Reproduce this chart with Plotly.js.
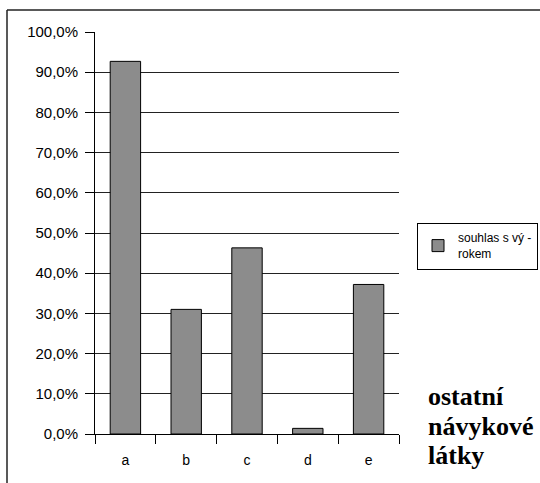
<!DOCTYPE html>
<html>
<head>
<meta charset="utf-8">
<script src="https://cdn.plot.ly/plotly-3.0.1.min.js"></script>
<style>
html,body{margin:0;padding:0;background:#fff;}
#chart{width:540px;height:483px;}
</style>
</head>
<body>
<div id="chart"></div>
<script>
const categories = ['a', 'b', 'c', 'd', 'e'];
const values = [0.927, 0.310, 0.463, 0.014, 0.372];
const seriesName = 'souhlas s vý -<br>rokem';
const sideLines = ['ostatní', 'návykové', 'látky'];

const L = 95, R = 399, T = 32, B = 434, W = 540, H = 483;
const pw = R - L, ph = B - T;
const px = v => (v - L) / pw;
const py = v => 1 - (v - T) / ph;

const trace = {
  type: 'bar',
  x: categories,
  y: values,
  name: seriesName,
  marker: {color: '#8c8c8c', line: {color: '#000', width: 1}},
  showlegend: true,
  hoverinfo: 'none'
};

const lineCenters = [396, 426, 455];
const annotations = sideLines.map((t, i) => ({
  xref: 'paper', yref: 'paper',
  x: px(426), y: py(lineCenters[i]),
  xanchor: 'left', yanchor: 'middle', align: 'left',
  showarrow: false,
  text: '<b>' + t + '</b>',
  font: {family: 'Liberation Serif, Times New Roman, serif', size: 26, color: '#000'}
}));

const layout = {
  width: W, height: H,
  margin: {l: L, r: W - R, t: T, b: H - B, pad: 0, autoexpand: false},
  paper_bgcolor: '#fff',
  plot_bgcolor: '#fff',
  font: {family: 'Liberation Sans, Arial, sans-serif', size: 14, color: '#000'},
  separators: ', ',
  bargap: 0.5,
  showlegend: true,
  xaxis: {
    type: 'category',
    showline: true, linecolor: '#000', linewidth: 1,
    ticks: 'outside', ticklen: 9, tickcolor: '#000', tickwidth: 1,
    tickson: 'boundaries',
    showgrid: false,
    tickfont: {size: 14},
    ticklabelstandoff: 13,
    automargin: false,
    fixedrange: true
  },
  yaxis: {
    range: [0, 1],
    tickvals: [0, 0.1, 0.2, 0.3, 0.4, 0.5, 0.6, 0.7, 0.8, 0.9, 1.0],
    tickformat: '.1%',
    showline: true, linecolor: '#000', linewidth: 1,
    ticks: 'outside', ticklen: 9, tickcolor: '#000', tickwidth: 1,
    showgrid: true, gridcolor: '#222', gridwidth: 1,
    zeroline: false,
    tickfont: {size: 15},
    ticklabelstandoff: 4,
    automargin: false,
    fixedrange: true
  },
  legend: {
    x: px(417), xanchor: 'left',
    y: py(246), yanchor: 'middle',
    bgcolor: '#fff', bordercolor: '#000', borderwidth: 1,
    font: {size: 12},
    itemwidth: 30
  },
  annotations: annotations,
  shapes: [
    {type: 'line', xref: 'paper', yref: 'paper', x0: px(7), x1: px(7), y0: py(10), y1: py(H + 5), line: {color: '#222', width: 1.5}},
    {type: 'line', xref: 'paper', yref: 'paper', x0: px(7), x1: px(W + 5), y0: py(10), y1: py(10), line: {color: '#222', width: 1.5}}
  ]
};

Plotly.newPlot('chart', [trace], layout, {staticPlot: true, displayModeBar: false});
</script>
</body>
</html>
